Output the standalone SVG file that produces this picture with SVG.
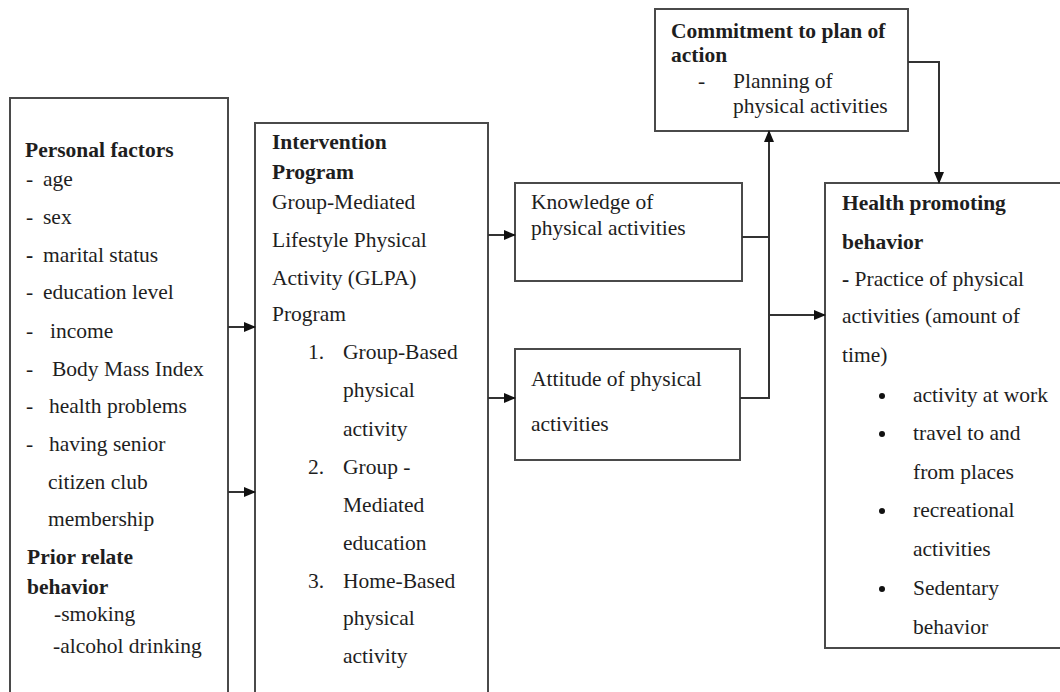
<svg xmlns="http://www.w3.org/2000/svg" width="1060" height="692" viewBox="0 0 1060 692">
  <style>
    .box { fill: #ffffff; stroke: #4a4a4a; stroke-width: 2; }
    .t { font-family: "Liberation Serif", "Times New Roman", serif; font-size: 21.5px; fill: #1e1e1e; }
    .b { font-weight: bold; }
    .wire { fill: none; stroke: #333333; stroke-width: 2; }
    .dot { fill: #111111; }
  </style>
  <defs>
    <marker id="arrow" markerUnits="userSpaceOnUse" markerWidth="12" markerHeight="10" refX="11" refY="5" orient="auto">
      <path d="M0,0 L12,5 L0,10 Z" fill="#111111"/>
    </marker>
  </defs>
  <rect width="1060" height="692" fill="#ffffff"/>

  <!-- Personal factors -->
  <g id="personal-factors">
    <rect class="box" x="10" y="98" width="218" height="620"/>
    <text class="t b" x="25" y="157">Personal factors</text>
    <text class="t" x="26" y="186">-</text><text class="t" x="43" y="186">age</text>
    <text class="t" x="26" y="224">-</text><text class="t" x="43" y="224">sex</text>
    <text class="t b" x="26" y="262">-</text><text class="t" x="43" y="262">marital status</text>
    <text class="t" x="26" y="299">-</text><text class="t" x="43" y="299">education level</text>
    <text class="t" x="26" y="338">-</text><text class="t" x="50" y="338">income</text>
    <text class="t" x="26" y="376">-</text><text class="t" x="52" y="376">Body Mass Index</text>
    <text class="t" x="26" y="413">-</text><text class="t" x="49" y="413">health problems</text>
    <text class="t" x="26" y="451">-</text><text class="t" x="49" y="451">having senior</text>
    <text class="t" x="48" y="489">citizen club</text>
    <text class="t" x="48" y="526">membership</text>
    <text class="t b" x="27" y="564">Prior relate</text>
    <text class="t b" x="27" y="594">behavior</text>
    <text class="t" x="54" y="621">-smoking</text>
    <text class="t" x="53" y="653">-alcohol drinking</text>
  </g>

  <!-- Intervention program -->
  <g id="intervention-program">
    <rect class="box" x="255" y="123" width="233" height="600"/>
    <text class="t b" x="272" y="149">Intervention</text>
    <text class="t b" x="272" y="179">Program</text>
    <text class="t" x="272" y="209">Group-Mediated</text>
    <text class="t" x="272" y="247">Lifestyle Physical</text>
    <text class="t" x="272" y="285">Activity (GLPA)</text>
    <text class="t" x="272" y="321">Program</text>
    <text class="t" x="308" y="359">1.</text><text class="t" x="343" y="359">Group-Based</text>
    <text class="t" x="343" y="397">physical</text>
    <text class="t" x="343" y="436">activity</text>
    <text class="t" x="308" y="474">2.</text><text class="t" x="343" y="474">Group -</text>
    <text class="t" x="343" y="512">Mediated</text>
    <text class="t" x="343" y="550">education</text>
    <text class="t" x="308" y="588">3.</text><text class="t" x="343" y="588">Home-Based</text>
    <text class="t" x="343" y="625">physical</text>
    <text class="t" x="343" y="663">activity</text>
  </g>

  <!-- Knowledge -->
  <g id="knowledge">
    <rect class="box" x="515" y="183" width="227" height="98"/>
    <text class="t" x="531" y="209">Knowledge of</text>
    <text class="t" x="531" y="235">physical activities</text>
  </g>

  <!-- Attitude -->
  <g id="attitude">
    <rect class="box" x="515" y="349" width="225" height="111"/>
    <text class="t" x="531" y="386">Attitude of physical</text>
    <text class="t" x="531" y="431">activities</text>
  </g>

  <!-- Commitment to plan of action -->
  <g id="commitment">
    <rect class="box" x="655" y="9" width="253" height="122"/>
    <text class="t b" x="671" y="38">Commitment to plan of</text>
    <text class="t b" x="671" y="62">action</text>
    <text class="t" x="698" y="88">-</text>
    <text class="t" x="733" y="88">Planning of</text>
    <text class="t" x="733" y="113">physical activities</text>
  </g>

  <!-- Health promoting behavior -->
  <g id="health-promoting-behavior">
    <rect class="box" x="825" y="183" width="250" height="465"/>
    <text class="t b" x="842" y="210">Health promoting</text>
    <text class="t b" x="842" y="249">behavior</text>
    <text class="t" x="842" y="286"><tspan font-weight="bold">-</tspan> Practice of physical</text>
    <text class="t" x="842" y="323">activities (amount of</text>
    <text class="t" x="842" y="362">time)</text>
    <circle class="dot" cx="882" cy="396" r="3"/>
    <text class="t" x="913" y="402">activity at work</text>
    <circle class="dot" cx="882" cy="434" r="3"/>
    <text class="t" x="913" y="440">travel to and</text>
    <text class="t" x="913" y="479">from places</text>
    <circle class="dot" cx="882" cy="511" r="3"/>
    <text class="t" x="913" y="517">recreational</text>
    <text class="t" x="913" y="556">activities</text>
    <circle class="dot" cx="882" cy="589" r="3"/>
    <text class="t" x="913" y="595">Sedentary</text>
    <text class="t" x="913" y="634">behavior</text>
  </g>

  <!-- Connectors -->
  <g id="connectors">
    <line class="wire" x1="228" y1="327" x2="255" y2="327" marker-end="url(#arrow)"/>
    <line class="wire" x1="228" y1="492" x2="255" y2="492" marker-end="url(#arrow)"/>
    <line class="wire" x1="488" y1="235" x2="515" y2="235" marker-end="url(#arrow)"/>
    <line class="wire" x1="488" y1="398" x2="515" y2="398" marker-end="url(#arrow)"/>
    <polyline class="wire" points="742,237 769,237"/>
    <polyline class="wire" points="740,398 769,398 769,131" marker-end="url(#arrow)"/>
    <line class="wire" x1="769" y1="315" x2="825" y2="315" marker-end="url(#arrow)"/>
    <polyline class="wire" points="908,62 939,62 939,183" marker-end="url(#arrow)"/>
  </g>
</svg>
